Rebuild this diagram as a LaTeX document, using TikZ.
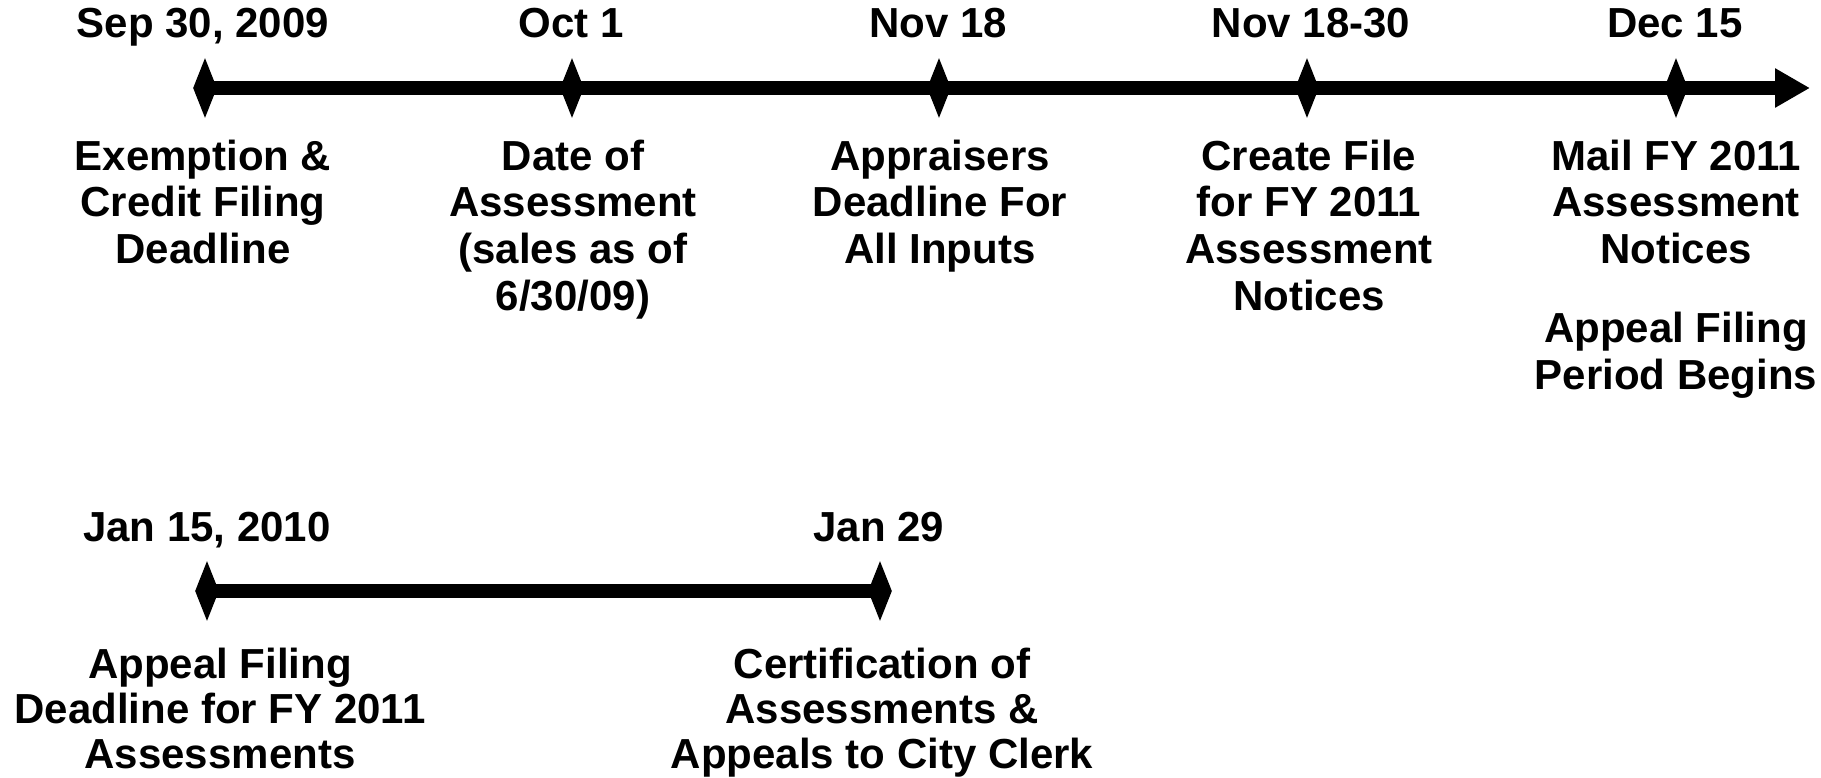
\documentclass[tikz,border=0pt]{standalone}
\usepackage{fontspec}
\setmainfont{Liberation Sans}
\usetikzlibrary{shapes.geometric,arrows.meta}
\newcommand\tllines[1]{\begin{tabular}[t]{@{}c@{}}#1\end{tabular}}
\begin{document}
\begin{tikzpicture}[x=0.5pt,y=-0.5pt,
  tickmark/.style={diamond, fill=black, draw=none, inner sep=0pt, minimum width=12pt, minimum height=30pt},
  lbl/.style={anchor=base, inner sep=0pt, font=\fontsize{21}{22.5}\selectfont\bfseries},
  toplbl/.style={anchor=base, inner sep=0pt, font=\fontsize{21}{23.4}\selectfont\bfseries},
  axisline/.style={line width=6.75pt, draw=black}]
\useasboundingbox (0,0) rectangle (1821,777);
% top timeline
\node[tickmark] (t1) at (205,88) {};
\node[tickmark] (t2) at (572,88) {};
\node[tickmark] (t3) at (939,88) {};
\node[tickmark] (t4) at (1307,88) {};
\node[tickmark] (t5) at (1676,88) {};
\coordinate (tip) at (1810,88);
\draw[axisline,-{Triangle[length=17.5pt,width=18.5pt]}] (t1.center) -- (tip);
% top dates
\node[lbl] (d1) at (203,37) {Sep 30, 2009};
\node[lbl] (d2) at (571,37) {Oct 1};
\node[lbl] (d3) at (938,37) {Nov 18};
\node[lbl] (d4) at (1311,37) {Nov 18-30};
\node[lbl] (d5) at (1675,37) {Dec 15};
% top descriptions
\node[toplbl] (e1) at (203,170) {\tllines{Exemption \&\\Credit Filing\\Deadline}};
\node[toplbl] (e2) at (573,170) {\tllines{Date of\\Assessment\\(sales as of\\6/30/09)}};
\node[toplbl] (e3) at (940,170) {\tllines{Appraisers\\Deadline For\\All Inputs}};
\node[toplbl] (e4) at (1309,170) {\tllines{Create File\\for FY 2011\\Assessment\\Notices}};
\node[toplbl] (e5) at (1676,170) {\tllines{Mail FY 2011\\Assessment\\Notices\\[16.25pt]Appeal Filing\\Period Begins}};
% bottom timeline
\node[tickmark] (b1) at (207,591) {};
\node[tickmark] (b2) at (880,591) {};
\draw[axisline] (b1.center) -- (b2.center);
\node[lbl] (f1) at (207,541) {Jan 15, 2010};
\node[lbl] (f2) at (879,541) {Jan 29};
\node[lbl] (g1) at (220,678) {\tllines{Appeal Filing\\Deadline for FY 2011\\Assessments}};
\node[lbl] (g2) at (882,678) {\tllines{Certification of\\Assessments \&\\Appeals to City Clerk}};
\end{tikzpicture}
\end{document}
